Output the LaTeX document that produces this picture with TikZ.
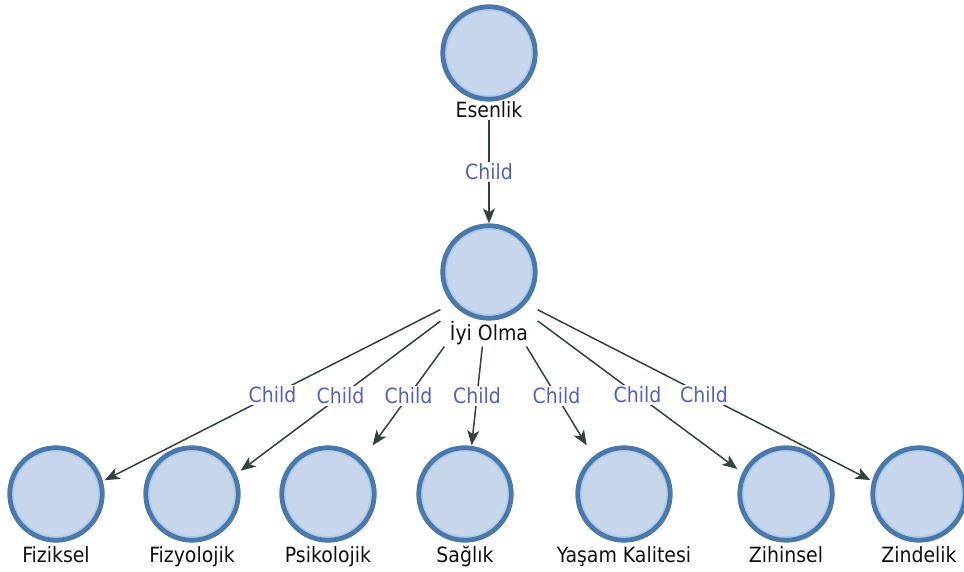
\documentclass[tikz,border=0pt]{standalone}
\usepackage{fontspec}
\setmainfont{DejaVu Sans Condensed}
\usetikzlibrary{arrows.meta,fit}

\definecolor{ringblue}{HTML}{4A78AA}
\definecolor{discfill}{HTML}{C7D6EB}
\definecolor{innerring}{HTML}{ABCBEE}
\definecolor{edgegray}{HTML}{344141}
\definecolor{relblue}{HTML}{5262BC}
\definecolor{inkblack}{HTML}{111111}

\tikzset{
  disc/.style={circle, draw=ringblue, line width=4.8pt, fill=discfill,
    minimum size=92.5pt, inner sep=0pt,
    path picture={\draw[innerring, line width=1.6pt]
      (path picture bounding box.center) circle (43pt);}},
  nodetext/.style={font=\fontsize{21}{24}\selectfont, text=inkblack,
    inner sep=2pt, anchor=base},
  grp/.style={inner sep=0pt, outer sep=0pt},
  link/.style={draw=edgegray, line width=1.5pt,
    -{Stealth[length=15pt,width=12pt,inset=4pt]}},
  rel/.style={midway, fill=white, inner sep=1.5pt, text=relblue,
    font=\fontsize{21}{23}\selectfont},
}

\begin{document}
\begin{tikzpicture}[x=1pt, y=-1pt]
  \useasboundingbox (0,0) rectangle (964,572);
  \fill[white] (0,0) rectangle (964,572);

  % root
  \node[disc] (ces) at (489,53) {};
  \node[nodetext] (tes) at (489,118) {Esenlik};
  \node[grp, fit=(ces)(tes)] (es) {};

  % middle level
  \node[disc] (cio) at (489,272) {};
  \node[nodetext] (tio) at (489,340) {İyi Olma};
  \node[grp, fit=(cio)(tio)] (io) {};

  % leaves
  \foreach \x/\t/\k in {56/Fiziksel/a, 192/Fizyolojik/b, 328/Psikolojik/c,
      465/Sağlık/d, 624/{Yaşam Kalitesi}/e, 786/Zihinsel/f, 919/Zindelik/g} {
    \node[disc] (c\k) at (\x,494) {};
    \node[nodetext] (t\k) at (\x,562) {\t};
    \node[grp, fit=(c\k)(t\k)] (\k) {};
  }

  % connectors
  \draw[link] (es) -- node[rel] {Child} (io);
  \foreach \k in {a,b,c,d,e,f,g} {
    \draw[link] (io) -- node[rel] {Child} (\k);
  }
\end{tikzpicture}
\end{document}
